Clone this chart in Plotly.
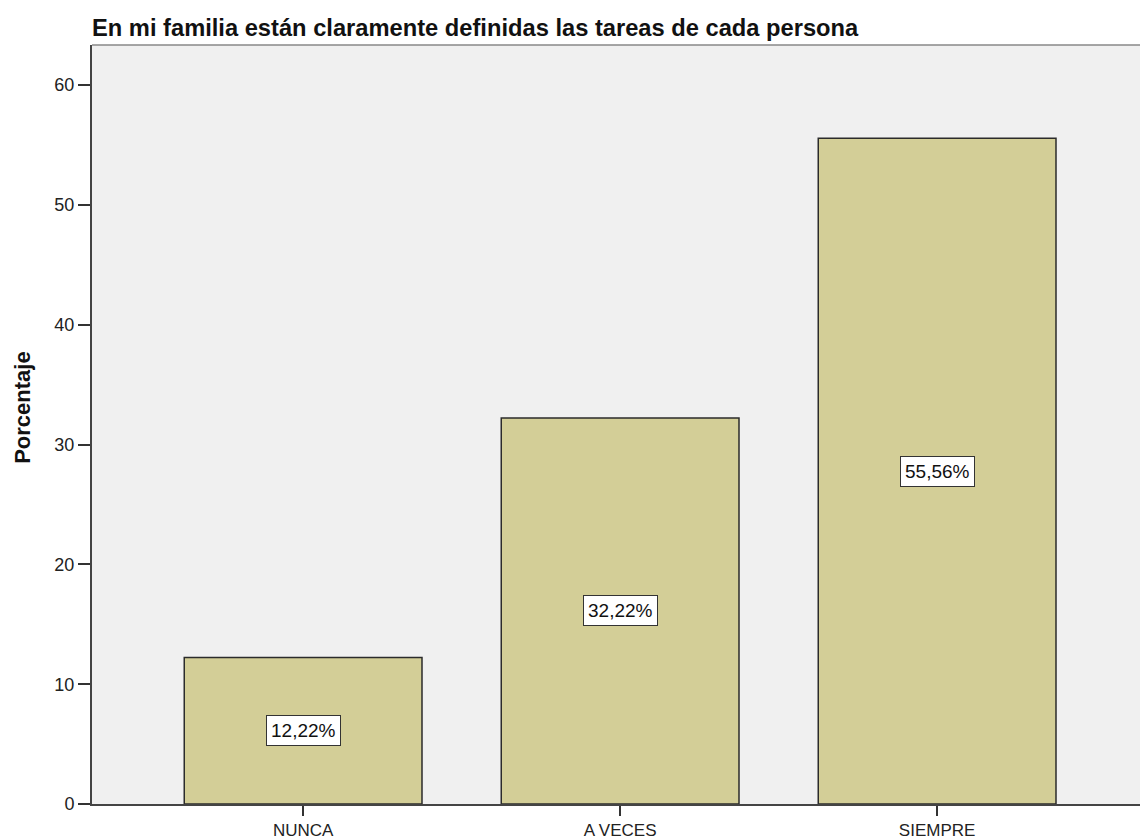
import plotly.graph_objects as go

categorias = ['NUNCA', 'A VECES', 'SIEMPRE']
porcentajes = [12.22, 32.22, 55.56]
etiquetas = ['12,22%', '32,22%', '55,56%']
ticks_y = [0, 10, 20, 30, 40, 50, 60]

titulo = 'En mi familia están claramente definidas las tareas de cada persona'

fig = go.Figure()
fig.add_trace(go.Bar(
    x=categorias, y=porcentajes, width=0.75,
    marker=dict(color='#d3ce97', line=dict(color='#2b2b2b', width=1.5)),
    hoverinfo='skip', showlegend=False,
))

# etiquetas con caja blanca a media altura de cada barra
for c, v, t in zip(categorias, porcentajes, etiquetas):
    fig.add_annotation(x=c, y=v / 2, text=t, showarrow=False,
                       font=dict(family='Liberation Sans, Arial', size=19, color='#111'),
                       bgcolor='white', bordercolor='#333', borderwidth=1, borderpad=4)

# titulo del eje y, un poco por encima del centro como en el original
fig.add_annotation(text='<b>Porcentaje</b>', xref='paper', yref='paper', x=0, y=0.522,
                   xanchor='center', yanchor='middle', xshift=-69, textangle=-90,
                   showarrow=False, font=dict(size=22, color='#111'))

# borde superior del area de trazado
fig.add_shape(type='line', xref='paper', yref='paper', x0=0, x1=1, y0=1, y1=1,
              line=dict(color='#888', width=1.5))

fig.update_layout(
    width=1140, height=840,
    margin=dict(l=92, r=0, t=45, b=36),
    paper_bgcolor='white', plot_bgcolor='#f0f0f0',
    font=dict(family='Liberation Sans, Arial', color='#222'),
    title=dict(text='<b>' + titulo + '</b>', x=92 / 1140, xanchor='left', xref='container',
               y=1 - 28 / 840, yanchor='middle', yref='container',
               font=dict(size=23.7, color='#111')),
    bargap=0.25,
)
fig.update_xaxes(range=[-0.666, 2.64], showgrid=False, showline=True, linecolor='#444', linewidth=2,
                 ticks='outside', ticklen=10, tickcolor='#333', tickwidth=1.5,
                 tickfont=dict(size=17, color='#222'), zeroline=False)
fig.update_yaxes(range=[0, 63.35], tickvals=ticks_y, showgrid=False, showline=True, linecolor='#444',
                 linewidth=2, ticks='outside', ticklen=12, tickcolor='#333', tickwidth=1.5,
                 tickfont=dict(size=18, color='#222'), zeroline=False)

fig.write_html("out.html", config={'displayModeBar': False},
               post_script="document.body.style.margin='0';")
